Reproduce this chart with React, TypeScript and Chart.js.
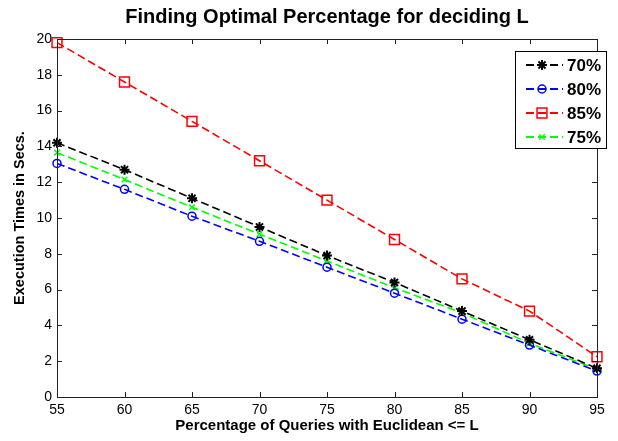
import React, { useEffect, useRef } from 'react';
import { Chart, registerables } from 'chart.js';
import { drawPoint } from 'chart.js/helpers';

Chart.register(...registerables);

const chartTitle = 'Finding Optimal Percentage for deciding L';
const xAxisTitle = 'Percentage of Queries with Euclidean <= L';
const yAxisTitle = 'Execution Times in Secs.';

const percentages = [55, 60, 65, 70, 75, 80, 85, 90, 95];
const series70 = [14.2, 12.7, 11.1, 9.5, 7.9, 6.4, 4.8, 3.2, 1.6];
const series80 = [13.05, 11.6, 10.1, 8.7, 7.25, 5.8, 4.35, 2.9, 1.45];
const series85 = [19.8, 17.6, 15.4, 13.2, 11.0, 8.8, 6.6, 4.8, 2.25];
const series75 = [13.65, 12.15, 10.6, 9.1, 7.6, 6.1, 4.7, 3.0, 1.55];
const seriesLabels = ['70%', '80%', '85%', '75%'];

const xMin = 55, xMax = 95, xStep = 5;
const yMin = 0, yMax = 20, yStep = 2;

const FONT = '"Liberation Sans", Arial, Helvetica, sans-serif';

const toPoints = (ys: number[]) => ys.map((y, i) => ({ x: percentages[i], y }));

const boxTicksPlugin = {
  id: 'boxTicks',
  afterDatasetsDraw(chart: any) {
    const { ctx, chartArea, scales } = chart;
    const { left, right, top, bottom } = chartArea;
    const len = 5;
    ctx.save();
    ctx.strokeStyle = '#222';
    ctx.lineWidth = 1;
    ctx.setLineDash([]);
    ctx.beginPath();
    scales.x.ticks.forEach((t: any) => {
      const px = Math.round(scales.x.getPixelForValue(t.value)) + 0.5;
      ctx.moveTo(px, bottom);
      ctx.lineTo(px, bottom - len);
      ctx.moveTo(px, top);
      ctx.lineTo(px, top + len);
    });
    scales.y.ticks.forEach((t: any) => {
      const py = Math.round(scales.y.getPixelForValue(t.value)) + 0.5;
      ctx.moveTo(left, py);
      ctx.lineTo(left + len, py);
      ctx.moveTo(right, py);
      ctx.lineTo(right - len, py);
    });
    ctx.stroke();
    ctx.strokeRect(Math.round(left) + 0.5, Math.round(top) + 0.5, Math.round(right - left), Math.round(bottom - top));
    ctx.restore();
  },
};

const legendBoxPlugin = {
  id: 'legendBox',
  afterDraw(chart: any) {
    const { ctx, chartArea } = chart;
    const bx = Math.round(chartArea.right - 82);
    const by = Math.round(chartArea.top + 12);
    const bw = 91;
    const bh = 97;
    ctx.save();
    ctx.fillStyle = '#fff';
    ctx.fillRect(bx, by, bw, bh);
    ctx.strokeStyle = '#000';
    ctx.lineWidth = 1;
    ctx.setLineDash([]);
    ctx.strokeRect(bx + 0.5, by + 0.5, bw, bh);
    chart.data.datasets.forEach((ds: any, i: number) => {
      const y = by + 14 + i * 24;
      ctx.strokeStyle = ds.borderColor;
      ctx.lineWidth = 2;
      ctx.setLineDash(ds.borderDash || []);
      ctx.beginPath();
      ctx.moveTo(bx + 11, y);
      ctx.lineTo(bx + 48, y);
      ctx.stroke();
      ctx.setLineDash([]);
      ctx.fillStyle = 'rgba(0,0,0,0)';
      ctx.strokeStyle = ds.pointBorderColor;
      ctx.lineWidth = ds.pointBorderWidth;
      drawPoint(ctx, { pointStyle: ds.pointStyle, radius: ds.pointRadius, borderWidth: ds.pointBorderWidth, rotation: 0 } as any, bx + 27, y);
      ctx.fillStyle = '#000';
      ctx.font = `bold 17px ${FONT}`;
      ctx.textBaseline = 'middle';
      ctx.textAlign = 'left';
      ctx.fillText(ds.label, bx + 52, y + 1);
    });
    ctx.restore();
  },
};

const makeDataset = (label: string, ys: number[], color: string, pointStyle: string, radius: number, pbw: number) => ({
  label,
  data: toPoints(ys),
  borderColor: color,
  backgroundColor: 'rgba(0,0,0,0)',
  borderWidth: 1.6,
  borderDash: [8, 4],
  pointStyle,
  pointRadius: radius,
  pointBorderColor: color,
  pointBackgroundColor: 'rgba(0,0,0,0)',
  pointBorderWidth: pbw,
  tension: 0,
  clip: false,
});

export default function App() {
  const canvasRef = useRef<HTMLCanvasElement | null>(null);

  useEffect(() => {
    if (!canvasRef.current) return;
    const chart = new Chart(canvasRef.current, {
      type: 'line',
      data: {
        datasets: [
          makeDataset(seriesLabels[0], series70, '#000000', 'star', 5, 2),
          makeDataset(seriesLabels[1], series80, '#0000ff', 'circle', 4, 1.5),
          makeDataset(seriesLabels[2], series85, '#ff0000', 'rect', 7, 1.5),
          makeDataset(seriesLabels[3], series75, '#00ff00', 'crossRot', 4, 1.5),
        ] as any,
      },
      options: {
        responsive: false,
        animation: false,
        devicePixelRatio: 1,
        layout: { padding: { left: 0, right: 21, top: 0, bottom: 0 } },
        plugins: {
          legend: { display: false },
          tooltip: { enabled: false },
          title: {
            display: true,
            text: chartTitle,
            fullSize: false,
            color: '#000',
            font: { family: FONT, size: 20, weight: 'bold' },
            padding: { top: 5, bottom: 10 },
          },
        },
        scales: {
          x: {
            type: 'linear',
            min: xMin,
            max: xMax,
            grid: { display: false, drawTicks: false },
            border: { display: false },
            ticks: {
              stepSize: xStep,
              padding: 5,
              maxRotation: 0,
              color: '#000',
              font: { family: FONT, size: 14 },
            },
            title: {
              display: true,
              text: xAxisTitle,
              color: '#000',
              font: { family: FONT, size: 15, weight: 'bold' },
              padding: { top: 0, bottom: 6 },
            },
            afterFit(scale: any) {
              scale.height = 44;
            },
          },
          y: {
            type: 'linear',
            min: yMin,
            max: yMax,
            grid: { display: false, drawTicks: false },
            border: { display: false },
            ticks: {
              stepSize: yStep,
              padding: 5,
              color: '#000',
              font: { family: FONT, size: 14 },
            },
            title: {
              display: true,
              text: yAxisTitle,
              color: '#000',
              font: { family: FONT, size: 14.5, weight: 'bold' },
              padding: { top: 11.3, bottom: 0 },
            },
            afterFit(scale: any) {
              scale.width = 57;
            },
          },
        },
      } as any,
      plugins: [boxTicksPlugin, legendBoxPlugin],
    });
    return () => chart.destroy();
  }, []);

  return (
    <div style={{ position: 'absolute', left: 0, top: 0, width: 618, height: 441, background: '#fff' }}>
      <canvas ref={canvasRef} width={618} height={441} style={{ width: 618, height: 441 }} />
    </div>
  );
}
